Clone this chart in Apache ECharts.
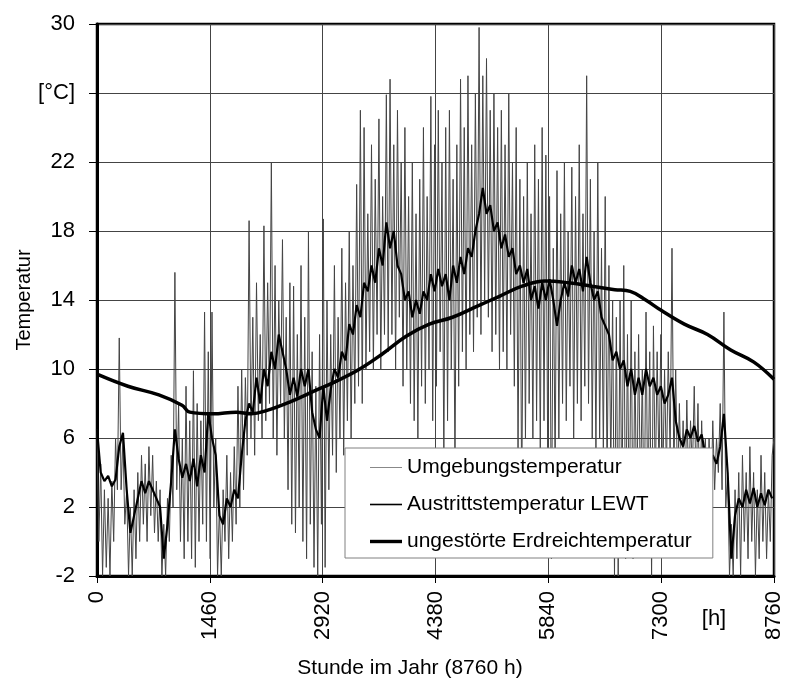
<!DOCTYPE html>
<html>
<head>
<meta charset="utf-8">
<script src="https://cdn.jsdelivr.net/npm/echarts@6/dist/echarts.min.js"></script>
<style>html,body{margin:0;padding:0;background:#fff;}#c{width:787px;height:683px;}</style>
</head>
<body>
<div id="c"></div>
<script>
// x tick labels (hours) and y tick labels
const xTicks = [0, 1460, 2920, 4380, 5840, 7300, 8760];
const yTicks = [-2, 2, 6, 10, 14, 18, 22, 26, 30];
const seriesNames = ['Umgebungstemperatur', 'Austrittstemperatur LEWT', 'ungestörte Erdreichtemperatur'];

// Ambient temperature, one value every 24 h (alternating daily high / low)
const ambientStepH = 24;
const ambient = [
  6.5, 0, 4.5, -2, 3, -1.5, 2.5, -2, 3.5, 0,
  6, 3, 11.8, 3, 6, 1, 3, -2, 2, -2,
  3, -1, 4, 0, 5, 1, 4.5, 0, 5.5, 1.5,
  5, 0.5, 3.5, 0, 3, -2, 1, -2, 2.5, 0,
  5, 2, 15.6, 3, 8, 0, 6, -1, 9, 0,
  7, -1, 9.9, -1.5, 8, 0, 7, 1, 13.3, 0,
  11, -1, 13.3, 2, 6, -2, 2, -2, 3, 0,
  5, -1, 4, 0, 5.5, 1, 9, 2, 10, 3,
  9.5, 5, 18.6, 6, 13, 5, 15, 7, 12, 6,
  18.3, 7, 15, 8, 22, 6, 16, 5, 14, 8,
  17.5, 6, 13, 3, 15, 1, 14.8, 0.5, 12, 2,
  16, 0, 13, -1, 18, 1, 11, -1.5, 9, -2,
  12, 1, 18.7, -1.5, 14, 3, 12, 5, 16, 4,
  13, 6, 17, 5, 15, 7, 18, 6, 16, 8,
  20.7, 9, 25, 8, 24, 10, 19, 11, 23, 10,
  21, 12, 24.5, 10, 20, 12, 25.9, 11, 26.8, 12,
  23, 10, 25, 13, 22, 9, 24, 10, 20, 8,
  22, 7, 19, 6, 21, 9, 24, 8, 20, 10,
  25.8, 7, 23, 9, 25, 11, 22, 4.5, 24, 7,
  25, 10, 21, 4, 23, 9, 26.8, 11, 24, 10,
  27, 12, 23, 11, 26, 13, 29.8, 12, 27, 14,
  28, 13, 25, 11, 26, 12, 24, 10, 25, 11,
  23, 10, 26, 12, 22, 9, 24, 5, 21, 2,
  20, 6, 22, 8, 19, 6, 23, 7, 21, 5,
  24, 7, 22.4, 5, 20, -1, 17, 4, 21.5, 6,
  19, 8, 22, 7, 18, 9, 21.7, 6, 20, 8,
  23, 7, 19, 9, 27, 8, 21, 6, 18, 5,
  22, 6, 17, 5, 20, 3, 16, 4, 14, -2,
  13, -2, 14, 1, 16, -1, 12, 0, 14, -1,
  11, 1, 12, 2, 10, 0, 13.3, 1, 11, -2,
  12.5, 3, 11, 4, 12, 3, 10, 4, 11, 5,
  17, 4, 10, 3, 8, 3, 7, 2, 8.2, 3,
  7, 4, 9, 3, 8, 2, 7, 3, 6, 2,
  6, 2, 7, 3, 6, 4, 8, 3, 13.3, 2,
  4, -2, 1, -2, 3, -1, 4, -2, 5, 0,
  4, -1, 5.5, 0, 4, -2, 3, -1, 5, 0,
  4, -1, 3, 0, 5, 6
];

// Outlet temperature of the earth-air heat exchanger, one value every 48 h
const lewtStepH = 48;
const lewt = [
  6.5, 4, 3.5, 3.8, 3.2, 3.6, 5.5, 6.3, 3, 0.5,
  1.5, 2.5, 3.5, 2.8, 3.5, 3, 2.5, 2, -1, 1,
  3.5, 6.5, 4.8, 3.7, 4.5, 3.5, 4.8, 3.2, 5, 4,
  7.5, 6, 5, 1.5, 1, 2.5, 2, 3, 2.5, 5,
  7, 8, 7.5, 9.5, 8, 10, 9, 11, 10, 12,
  11, 10, 8.5, 9.5, 8.4, 10, 9, 10, 7.5, 6.5,
  6, 9, 7, 8.8, 10, 9.5, 11, 10.5, 12.6, 12,
  13.7, 13, 15, 14.5, 16, 15, 17, 16, 18.5, 17,
  18, 16, 15.5, 14, 14.5, 13, 14, 13.2, 14.5, 14,
  15.5, 14.5, 15.8, 14.8, 15.5, 14, 16, 15, 16.5, 15.5,
  17, 16.5, 18, 19, 20.5, 19, 19.5, 18, 18.5, 17,
  17.8, 16.5, 17, 15.5, 16, 15, 15.8, 14, 14.8, 13.5,
  15, 14, 15.2, 14, 12.5, 14, 15, 14.2, 16, 15,
  15.8, 14.5, 16.5, 15, 14, 14.5, 13, 12.5, 12, 10.5,
  11, 10, 10.5, 9, 10, 8.5, 9.5, 8.5, 10, 9,
  9.5, 8.5, 9, 8, 8.5, 9.5, 7, 6, 5.5, 6.5,
  6, 6.7, 5.8, 6.2, 5, 4.5, 5, 4.5, 5.5, 7.4,
  4, -1, 1.5, 2.5, 2, 3, 2.2, 3.1, 2, 2.8,
  2.1, 3, 2.5
];

// Undisturbed ground temperature
const groundHours = [0, 400, 800, 1100, 1200, 1500, 1800, 2000, 2200, 2500, 2800, 3100, 3400, 3700, 4000, 4300, 4600, 4900, 5200, 5500, 5800, 6100, 6400, 6700, 6900, 7100, 7300, 7600, 7900, 8200, 8500, 8760];
const groundTemp  = [9.7, 9.0, 8.5, 7.9, 7.5, 7.4, 7.5, 7.4, 7.6, 8.1, 8.7, 9.3, 10.0, 10.9, 11.9, 12.6, 13.0, 13.6, 14.2, 14.8, 15.1, 15.0, 14.8, 14.6, 14.5, 14.0, 13.4, 12.6, 12.0, 11.1, 10.4, 9.4];

const FONT = 'Liberation Sans, Arial, sans-serif';
const chart = echarts.init(document.getElementById('c'), null, {renderer: 'canvas'});

// legend icons: plain horizontal strokes of different thickness
const legendIcons = [
  'path://M0,0M32,14M0,6.5L32,6.5L32,7.5L0,7.5Z',
  'path://M0,0M32,14M0,6.2L32,6.2L32,7.8L0,7.8Z',
  'path://M0,0M32,14M0,5.3L32,5.3L32,8.7L0,8.7Z'
];
const colors = ['#444', '#000', '#000'];
const legendColors = ['#888', '#000', '#000'];

const option = {
  animation: false,
  backgroundColor: '#fff',
  grid: {left: 97, right: 13, top: 24, bottom: 107, show: true, borderColor: '#000', borderWidth: 2.5, backgroundColor: 'transparent'},
  xAxis: {
    type: 'value', min: xTicks[0], max: xTicks[xTicks.length - 1], interval: xTicks[1] - xTicks[0],
    axisLine: {show: true, onZero: false, lineStyle: {color: '#000', width: 3}},
    axisTick: {show: true, length: 7, lineStyle: {color: '#000', width: 1}},
    axisLabel: {rotate: 90, margin: 15, color: '#000', fontFamily: FONT, fontSize: 22,
      formatter: v => String(v)},
    splitLine: {show: true, lineStyle: {color: '#444', width: 1}}
  },
  yAxis: {
    type: 'value', min: yTicks[0], max: yTicks[yTicks.length - 1], interval: yTicks[1] - yTicks[0],
    name: 'Temperatur', nameLocation: 'middle', nameGap: 63, nameMoveOverlap: false,
    nameTextStyle: {color: '#000', fontFamily: FONT, fontSize: 20},
    axisLine: {show: true, onZero: false, lineStyle: {color: '#000', width: 3}},
    axisTick: {show: true, length: 8, lineStyle: {color: '#000', width: 1}},
    axisLabel: {margin: 22, color: '#000', fontFamily: FONT, fontSize: 22,
      formatter: v => (v === 26 ? '[°C]' : String(v))},
    splitLine: {show: true, lineStyle: {color: '#444', width: 1}}
  },
  legend: {
    orient: 'vertical', left: 345, top: 448,
    padding: [9, 21, 6, 25], itemGap: 16, itemWidth: 32, itemHeight: 14,
    backgroundColor: '#fff', borderColor: '#808080', borderWidth: 1,
    textStyle: {color: '#000', fontFamily: FONT, fontSize: 21, lineHeight: 21},
    data: seriesNames.map((n, i) => ({name: n, icon: legendIcons[i], itemStyle: {color: legendColors[i], borderWidth: 0}}))
  },
  graphic: [
    {type: 'text', x: 714, y: 619, style: {text: '[h]', fill: '#000', font: '22px ' + FONT, textAlign: 'center', textVerticalAlign: 'middle'}},
    {type: 'text', x: 410, y: 668, style: {text: 'Stunde im Jahr (8760 h)', fill: '#000', font: '21px ' + FONT, textAlign: 'center', textVerticalAlign: 'middle'}}
  ],
  series: [
    {name: seriesNames[0], type: 'line', symbol: 'none', showSymbol: false,
      lineStyle: {color: colors[0], width: 1}, itemStyle: {color: colors[0]},
      data: ambient.map((v, i) => [i * ambientStepH, v]), z: 2},
    {name: seriesNames[1], type: 'line', symbol: 'none', showSymbol: false,
      lineStyle: {color: colors[1], width: 2.2}, itemStyle: {color: colors[1]},
      data: lewt.map((v, i) => [i * lewtStepH, v]), z: 3},
    {name: seriesNames[2], type: 'line', symbol: 'none', showSymbol: false, smooth: 0.4,
      lineStyle: {color: colors[2], width: 3.5}, itemStyle: {color: colors[2]},
      data: groundHours.map((h, i) => [h, groundTemp[i]]), z: 4}
  ]
};
chart.setOption(option);
</script>
</body>
</html>
